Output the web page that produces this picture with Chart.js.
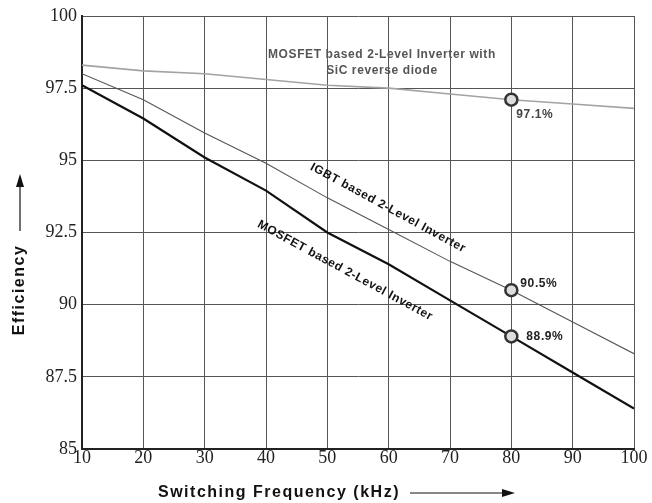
<!DOCTYPE html>
<html>
<head>
<meta charset="utf-8">
<script src="https://cdn.jsdelivr.net/npm/chart.js@4/dist/chart.umd.min.js"></script>
<style>
  html, body { margin: 0; padding: 0; background: #fff; }
  #wrap { width: 652px; height: 503px; }
</style>
</head>
<body>
<div id="wrap"><canvas id="chart"></canvas></div>
<script>
const frequencies = [10, 20, 30, 40, 50, 60, 70, 80, 90, 100];
const sicMosfet = [98.3, 98.1, 98.0, 97.8, 97.6, 97.5, 97.3, 97.1, 96.95, 96.8];
const igbt = [98.0, 97.1, 95.95, 94.9, 93.7, 92.6, 91.5, 90.5, 89.4, 88.3];
const mosfet = [97.6, 96.45, 95.1, 93.95, 92.5, 91.4, 90.15, 88.9, 87.65, 86.4];
const yTicks = [85, 87.5, 90, 92.5, 95, 97.5, 100];
const markedIndex = 7; // 80 kHz

// text drawn on the plot: label, x value, y value, rotation in degrees
const curveLabels = [
  { text: 'MOSFET based 2-Level Inverter with', x: 58.9, y: 98.65, angle: 0, color: '#555' },
  { text: 'SiC reverse diode', x: 58.9, y: 98.12, angle: 0, color: '#555' },
  { text: 'IGBT based 2-Level Inverter', x: 59.9, y: 93.35, angle: 28.5, color: '#111' },
  { text: 'MOSFET based 2-Level Inverter', x: 52.9, y: 91.18, angle: 28.4, color: '#111' },
];

const markerRadius = (ctx) => (ctx.dataIndex === markedIndex ? 6 : 0);

const annotations = {
  id: 'annotations',
  afterDatasetsDraw(chart) {
    const { ctx, scales: { x, y } } = chart;
    ctx.save();
    ctx.font = 'bold 12px "Liberation Sans", Arial, sans-serif';
    ctx.letterSpacing = '0.6px';
    ctx.textAlign = 'center';
    ctx.textBaseline = 'middle';
    curveLabels.forEach((l) => {
      ctx.save();
      ctx.translate(x.getPixelForValue(l.x), y.getPixelForValue(l.y));
      ctx.rotate(l.angle * Math.PI / 180);
      ctx.fillStyle = l.color;
      ctx.fillText(l.text, 0, 0);
      ctx.restore();
    });

    // value labels next to the 80 kHz markers
    const px = x.getPixelForValue(frequencies[markedIndex]);
    ctx.textAlign = 'left';
    ctx.fillStyle = '#444';
    ctx.fillText(sicMosfet[markedIndex].toFixed(1) + '%', px + 5, y.getPixelForValue(sicMosfet[markedIndex]) + 15);
    ctx.fillStyle = '#222';
    ctx.fillText(igbt[markedIndex].toFixed(1) + '%', px + 9, y.getPixelForValue(igbt[markedIndex]) - 7);
    ctx.fillText(mosfet[markedIndex].toFixed(1) + '%', px + 15, y.getPixelForValue(mosfet[markedIndex]));

    // axis titles with arrows
    ctx.fillStyle = '#111';
    ctx.strokeStyle = '#111';
    ctx.lineWidth = 1.2;
    ctx.font = 'bold 16px "Liberation Sans", Arial, sans-serif';
    ctx.letterSpacing = '1.5px';
    ctx.textAlign = 'left';
    ctx.fillText('Switching Frequency (kHz)', 158, 493);
    ctx.beginPath();
    ctx.moveTo(410, 493);
    ctx.lineTo(505, 493);
    ctx.stroke();
    ctx.beginPath();
    ctx.moveTo(515, 493);
    ctx.lineTo(502, 489);
    ctx.lineTo(502, 497);
    ctx.closePath();
    ctx.fill();

    ctx.save();
    ctx.translate(20, 290);
    ctx.rotate(-Math.PI / 2);
    ctx.textAlign = 'center';
    ctx.fillText('Efficiency', 0, 0);
    ctx.restore();
    ctx.beginPath();
    ctx.moveTo(20, 231);
    ctx.lineTo(20, 184);
    ctx.stroke();
    ctx.beginPath();
    ctx.moveTo(20, 174);
    ctx.lineTo(16, 187);
    ctx.lineTo(24, 187);
    ctx.closePath();
    ctx.fill();
    ctx.restore();
  }
};

new Chart(document.getElementById('chart'), {
  type: 'line',
  data: {
    labels: frequencies,
    datasets: [
      {
        label: 'MOSFET based 2-Level Inverter with SiC reverse diode',
        data: sicMosfet,
        borderColor: '#a3a3a3',
        borderWidth: 1.6,
      },
      {
        label: 'IGBT based 2-Level Inverter',
        data: igbt,
        borderColor: '#555',
        borderWidth: 1.1,
      },
      {
        label: 'MOSFET based 2-Level Inverter',
        data: mosfet,
        borderColor: '#111',
        borderWidth: 2.2,
      },
    ].map((d) => ({
      ...d,
      data: d.data.map((v, i) => ({ x: frequencies[i], y: v })),
      tension: 0,
      fill: false,
      pointRadius: markerRadius,
      pointHoverRadius: markerRadius,
      pointBackgroundColor: '#ddd',
      pointBorderColor: '#333',
      pointBorderWidth: 2.5,
    }))
  },
  options: {
    responsive: true,
    maintainAspectRatio: false,
    animation: false,
    layout: { padding: { top: 16, right: 18, left: 0, bottom: 0 } },
    plugins: {
      legend: { display: false },
      tooltip: { enabled: false },
    },
    scales: {
      x: {
        type: 'linear',
        min: 10,
        max: 100,
        ticks: {
          stepSize: 10,
          padding: -2,
          color: '#222',
          font: { family: '"Liberation Serif", "Times New Roman", serif', size: 18 },
        },
        grid: { color: '#555', lineWidth: 1, drawTicks: false },
        border: { color: '#222', width: 2 },
        afterFit: (scale) => { scale.height = 54; },
      },
      y: {
        min: 85,
        max: 100,
        afterBuildTicks: (scale) => { scale.ticks = yTicks.map((v) => ({ value: v })); },
        ticks: {
          padding: 5,
          color: '#222',
          font: { family: '"Liberation Serif", "Times New Roman", serif', size: 18 },
        },
        grid: { color: '#555', lineWidth: 1, drawTicks: false },
        border: { color: '#222', width: 2 },
        afterFit: (scale) => { scale.width = 82; },
      }
    }
  },
  plugins: [annotations]
});
</script>
</body>
</html>
